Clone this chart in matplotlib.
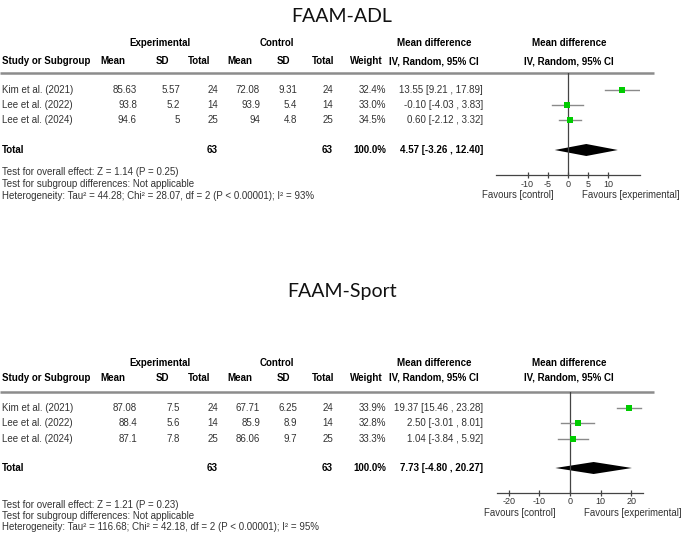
import matplotlib.pyplot as plt
from matplotlib.patches import Polygon

# data
studies = ['Kim et al. (2021)', 'Lee et al. (2022)', 'Lee et al. (2024)']

adl_exp_mean = ['85.63', '93.8', '94.6']
adl_exp_sd = ['5.57', '5.2', '5']
adl_exp_n = [24, 14, 25]
adl_ctl_mean = ['72.08', '93.9', '94']
adl_ctl_sd = ['9.31', '5.4', '4.8']
adl_ctl_n = [24, 14, 25]
adl_weight = [32.4, 33.0, 34.5]
adl_md = [13.55, -0.10, 0.60]
adl_lo = [9.21, -4.03, -2.12]
adl_hi = [17.89, 3.83, 3.32]
adl_total = (4.57, -3.26, 12.40)
adl_ticks = [-10, -5, 0, 5, 10]
adl_tests = ['Test for overall effect: Z = 1.14 (P = 0.25)',
             'Test for subgroup differences: Not applicable',
             'Heterogeneity: Tau\u00b2 = 44.28; Chi\u00b2 = 28.07, df = 2 (P < 0.00001); I\u00b2 = 93%']

sport_exp_mean = ['87.08', '88.4', '87.1']
sport_exp_sd = ['7.5', '5.6', '7.8']
sport_exp_n = [24, 14, 25]
sport_ctl_mean = ['67.71', '85.9', '86.06']
sport_ctl_sd = ['6.25', '8.9', '9.7']
sport_ctl_n = [24, 14, 25]
sport_weight = [33.9, 32.8, 33.3]
sport_md = [19.37, 2.50, 1.04]
sport_lo = [15.46, -3.01, -3.84]
sport_hi = [23.28, 8.01, 5.92]
sport_total = (7.73, -4.80, 20.27)
sport_ticks = [-20, -10, 0, 10, 20]
sport_tests = ['Test for overall effect: Z = 1.21 (P = 0.23)',
               'Test for subgroup differences: Not applicable',
               'Heterogeneity: Tau\u00b2 = 116.68; Chi\u00b2 = 42.18, df = 2 (P < 0.00001); I\u00b2 = 95%']

W, H = 683, 535
fig = plt.figure(figsize=(W / 100, H / 100), dpi=100)
bg = fig.add_axes([0, 0, 1, 1])
bg.set_xlim(0, W)
bg.set_ylim(H, 0)
bg.axis('off')

FONT = 'Liberation Sans'
TXT = '#333333'
fs = 7


def t(x, y, s, ha='left', bold=False, color=TXT, size=fs):
    bg.text(x, y, s, ha=ha, va='center', fontsize=size, family=FONT,
            fontweight='bold' if bold else 'normal', color=color)


def panel(title, lay, exp_mean, exp_sd, exp_n, ctl_mean, ctl_sd, ctl_n,
          weight, md, lo, hi, total, ticks, lim, tests):
    bg.text(342, lay['title'], title, ha='center', va='center', fontsize=14,
            family='Lato', color='#111111')
    h1, h2 = lay['h1'], lay['h2']
    t(160, h1, 'Experimental', 'center', True, 'black')
    t(277, h1, 'Control', 'center', True, 'black')
    t(434, h1, 'Mean difference', 'center', True, 'black')
    t(569, h1, 'Mean difference', 'center', True, 'black')
    t(2, h2, 'Study or Subgroup', 'left', True, 'black')
    for x, s in zip([113, 162, 199, 240, 283, 323, 366, 434, 569],
                    ['Mean', 'SD', 'Total', 'Mean', 'SD', 'Total', 'Weight',
                     'IV, Random, 95% CI', 'IV, Random, 95% CI']):
        t(x, h2, s, 'center', True, 'black')
    bg.plot([0, 654], [lay['rule'], lay['rule']], color='#8c8c8c', lw=1.8,
            solid_capstyle='butt')

    cols = [137, 180, 218, 260, 297, 333, 386, 483]
    for i, y in enumerate(lay['rows']):
        t(2, y, studies[i])
        vals = [exp_mean[i], exp_sd[i], str(exp_n[i]), ctl_mean[i], ctl_sd[i],
                str(ctl_n[i]), '%.1f%%' % weight[i],
                '%.2f [%.2f , %.2f]' % (md[i], lo[i], hi[i])]
        for x, s in zip(cols, vals):
            t(x, y, s, 'right')
    yt = lay['total']
    t(2, yt, 'Total', bold=True, color='black')
    t(218, yt, str(sum(exp_n)), 'right', True, 'black')
    t(333, yt, str(sum(ctl_n)), 'right', True, 'black')
    t(386, yt, '100.0%', 'right', True, 'black')
    t(483, yt, '%.2f [%.2f , %.2f]' % total, 'right', True, 'black')
    for y, s in zip(lay['tests'], tests):
        t(2, y, s)

    # forest plot in its own axes
    x0, x1 = lay['fx']
    ya = lay['axis']
    ax = fig.add_axes([x0 / W, 1 - ya / H, (x1 - x0) / W, (ya - lay['rule']) / H])
    ax.set_xlim(-lim, lim)
    ax.set_ylim(ya, lay['rule'])
    ax.patch.set_alpha(0)
    for s in ['top', 'left', 'right']:
        ax.spines[s].set_visible(False)
    ax.spines['bottom'].set_color('#444444')
    ax.spines['bottom'].set_linewidth(0.9)
    ax.set_yticks([])
    ax.set_xticks(ticks)
    ax.set_xticklabels([str(v) for v in ticks], family=FONT, fontsize=6.5,
                       color=TXT)
    ax.tick_params(axis='x', direction='inout', length=5, width=0.9,
                   colors='#444444', labelcolor=TXT, pad=0.5)
    ax.axvline(0, color='#444444', lw=0.9)
    for i, y in enumerate(lay['rows']):
        ax.plot([lo[i], hi[i]], [y, y], color='#8a8a8a', lw=1.0)
        ax.plot(md[i], y, marker='s', color='#00cc00', markersize=weight[i] * 0.14,
                markeredgewidth=0)
    m, l, h = total
    ax.add_patch(Polygon([[l, yt], [m, yt - 6], [h, yt], [m, yt + 6]],
                         closed=True, color='black', lw=0))
    t(lay['fav'][0], lay['fav'][2], 'Favours [control]', 'right', size=6.9)
    t(lay['fav'][1], lay['fav'][2], 'Favours [experimental]', 'left', size=6.9)


top = dict(title=16, h1=43, h2=61, rule=73, rows=[90, 105, 120], total=150,
           tests=[172, 184, 196], axis=175.5, fx=(495.7, 640), fav=(554, 582, 195))
bot = dict(title=292, h1=363, h2=378, rule=392, rows=[408, 423, 439], total=468,
           tests=[505, 516, 527], axis=493.3, fx=(496.7, 643.3), fav=(556, 584, 513))

panel('FAAM-ADL', top, adl_exp_mean, adl_exp_sd, adl_exp_n, adl_ctl_mean,
      adl_ctl_sd, adl_ctl_n, adl_weight, adl_md, adl_lo, adl_hi, adl_total,
      adl_ticks, 17.9, adl_tests)
panel('FAAM-Sport', bot, sport_exp_mean, sport_exp_sd, sport_exp_n,
      sport_ctl_mean, sport_ctl_sd, sport_ctl_n, sport_weight, sport_md,
      sport_lo, sport_hi, sport_total, sport_ticks, 24, sport_tests)

fig.savefig('out.png', dpi=100)
